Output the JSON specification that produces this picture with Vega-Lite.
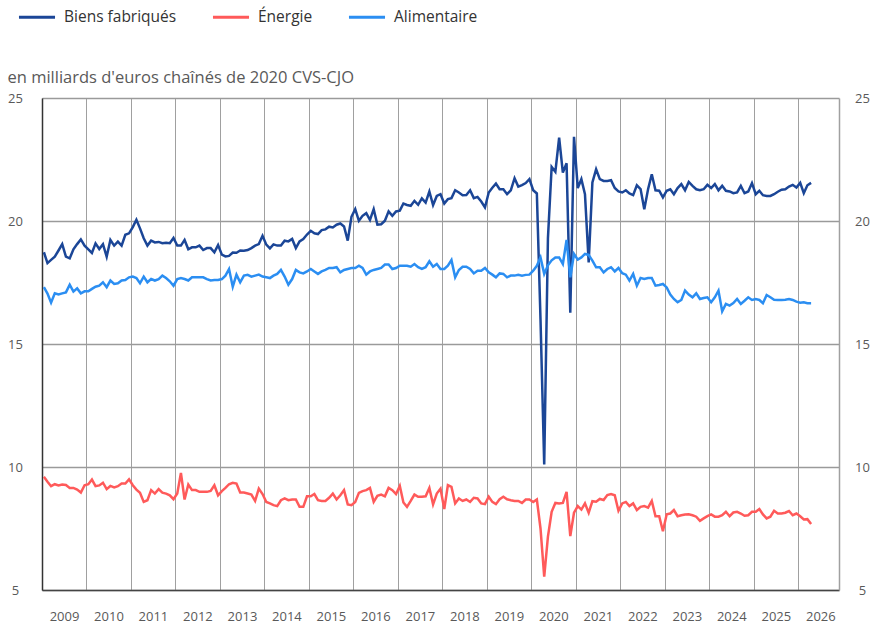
{
"$schema": "https://vega.github.io/schema/vega-lite/v6.json",
"width": 797, "height": 492,
"autosize": {"type": "none"},
"padding": {"left": 42, "top": 98, "right": 35, "bottom": 35},
"background": "#ffffff",
"config": {"font": "Open Sans", "view": {"stroke": null}},
"data": {"values": [
{"d":"2009-01","Biens fabriqués":18.73,"Énergie":9.6,"Alimentaire":17.31},
{"d":"2009-02","Biens fabriqués":18.29,"Énergie":9.4,"Alimentaire":17.05},
{"d":"2009-03","Biens fabriqués":18.42,"Énergie":9.22,"Alimentaire":16.68},
{"d":"2009-04","Biens fabriqués":18.55,"Énergie":9.3,"Alimentaire":17.06},
{"d":"2009-05","Biens fabriqués":18.8,"Énergie":9.25,"Alimentaire":17.01},
{"d":"2009-06","Biens fabriqués":19.06,"Énergie":9.29,"Alimentaire":17.06},
{"d":"2009-07","Biens fabriqués":18.55,"Énergie":9.27,"Alimentaire":17.1},
{"d":"2009-08","Biens fabriqués":18.48,"Énergie":9.15,"Alimentaire":17.41},
{"d":"2009-09","Biens fabriqués":18.85,"Énergie":9.15,"Alimentaire":17.13},
{"d":"2009-10","Biens fabriqués":19.06,"Énergie":9.08,"Alimentaire":17.26},
{"d":"2009-11","Biens fabriqués":19.25,"Énergie":8.96,"Alimentaire":17.06},
{"d":"2009-12","Biens fabriqués":19.0,"Énergie":9.26,"Alimentaire":17.14},
{"d":"2010-01","Biens fabriqués":18.85,"Énergie":9.3,"Alimentaire":17.14},
{"d":"2010-02","Biens fabriqués":18.7,"Énergie":9.49,"Alimentaire":17.24},
{"d":"2010-03","Biens fabriqués":19.09,"Énergie":9.22,"Alimentaire":17.33},
{"d":"2010-04","Biens fabriqués":18.86,"Énergie":9.25,"Alimentaire":17.37},
{"d":"2010-05","Biens fabriqués":19.06,"Énergie":9.36,"Alimentaire":17.51},
{"d":"2010-06","Biens fabriqués":18.55,"Énergie":9.1,"Alimentaire":17.31},
{"d":"2010-07","Biens fabriqués":19.23,"Énergie":9.23,"Alimentaire":17.58},
{"d":"2010-08","Biens fabriqués":19.0,"Énergie":9.17,"Alimentaire":17.44},
{"d":"2010-09","Biens fabriqués":19.16,"Énergie":9.22,"Alimentaire":17.47},
{"d":"2010-10","Biens fabriqués":19.0,"Énergie":9.33,"Alimentaire":17.58},
{"d":"2010-11","Biens fabriqués":19.44,"Énergie":9.33,"Alimentaire":17.6},
{"d":"2010-12","Biens fabriqués":19.5,"Énergie":9.5,"Alimentaire":17.71},
{"d":"2011-01","Biens fabriqués":19.75,"Énergie":9.26,"Alimentaire":17.74},
{"d":"2011-02","Biens fabriqués":20.05,"Énergie":9.08,"Alimentaire":17.68},
{"d":"2011-03","Biens fabriqués":19.7,"Énergie":8.95,"Alimentaire":17.47},
{"d":"2011-04","Biens fabriqués":19.3,"Énergie":8.58,"Alimentaire":17.74},
{"d":"2011-05","Biens fabriqués":19.0,"Énergie":8.65,"Alimentaire":17.51},
{"d":"2011-06","Biens fabriqués":19.2,"Énergie":9.06,"Alimentaire":17.64},
{"d":"2011-07","Biens fabriqués":19.13,"Énergie":8.92,"Alimentaire":17.58},
{"d":"2011-08","Biens fabriqués":19.15,"Énergie":9.1,"Alimentaire":17.64},
{"d":"2011-09","Biens fabriqués":19.1,"Énergie":8.96,"Alimentaire":17.78},
{"d":"2011-10","Biens fabriqués":19.12,"Énergie":8.92,"Alimentaire":17.68},
{"d":"2011-11","Biens fabriqués":19.1,"Énergie":8.85,"Alimentaire":17.55},
{"d":"2011-12","Biens fabriqués":19.31,"Énergie":8.69,"Alimentaire":17.37},
{"d":"2012-01","Biens fabriqués":19.0,"Énergie":8.92,"Alimentaire":17.64},
{"d":"2012-02","Biens fabriqués":19.0,"Énergie":9.76,"Alimentaire":17.68},
{"d":"2012-03","Biens fabriqués":19.23,"Énergie":8.68,"Alimentaire":17.64},
{"d":"2012-04","Biens fabriqués":18.85,"Énergie":9.29,"Alimentaire":17.58},
{"d":"2012-05","Biens fabriqués":18.93,"Énergie":9.06,"Alimentaire":17.71},
{"d":"2012-06","Biens fabriqués":18.93,"Énergie":9.06,"Alimentaire":17.71},
{"d":"2012-07","Biens fabriqués":19.0,"Énergie":8.99,"Alimentaire":17.71},
{"d":"2012-08","Biens fabriqués":18.82,"Énergie":8.99,"Alimentaire":17.71},
{"d":"2012-09","Biens fabriqués":18.9,"Énergie":8.99,"Alimentaire":17.64},
{"d":"2012-10","Biens fabriqués":18.9,"Énergie":9.03,"Alimentaire":17.58},
{"d":"2012-11","Biens fabriqués":18.73,"Énergie":9.26,"Alimentaire":17.6},
{"d":"2012-12","Biens fabriqués":19.02,"Énergie":8.85,"Alimentaire":17.6},
{"d":"2013-01","Biens fabriqués":18.63,"Énergie":9.02,"Alimentaire":17.64},
{"d":"2013-02","Biens fabriqués":18.56,"Énergie":9.15,"Alimentaire":17.78},
{"d":"2013-03","Biens fabriqués":18.58,"Énergie":9.3,"Alimentaire":18.05},
{"d":"2013-04","Biens fabriqués":18.72,"Énergie":9.36,"Alimentaire":17.33},
{"d":"2013-05","Biens fabriqués":18.71,"Énergie":9.33,"Alimentaire":17.82},
{"d":"2013-06","Biens fabriqués":18.8,"Énergie":8.96,"Alimentaire":17.51},
{"d":"2013-07","Biens fabriqués":18.79,"Énergie":8.96,"Alimentaire":17.78},
{"d":"2013-08","Biens fabriqués":18.82,"Énergie":8.92,"Alimentaire":17.81},
{"d":"2013-09","Biens fabriqués":18.9,"Énergie":8.88,"Alimentaire":17.74},
{"d":"2013-10","Biens fabriqués":19.0,"Énergie":8.62,"Alimentaire":17.78},
{"d":"2013-11","Biens fabriqués":19.06,"Énergie":9.12,"Alimentaire":17.82},
{"d":"2013-12","Biens fabriqués":19.4,"Énergie":8.9,"Alimentaire":17.74},
{"d":"2014-01","Biens fabriqués":19.04,"Énergie":8.58,"Alimentaire":17.71},
{"d":"2014-02","Biens fabriqués":18.89,"Énergie":8.52,"Alimentaire":17.68},
{"d":"2014-03","Biens fabriqués":19.05,"Énergie":8.45,"Alimentaire":17.78},
{"d":"2014-04","Biens fabriqués":19.0,"Énergie":8.41,"Alimentaire":17.85},
{"d":"2014-05","Biens fabriqués":19.0,"Énergie":8.65,"Alimentaire":18.01},
{"d":"2014-06","Biens fabriqués":19.2,"Énergie":8.72,"Alimentaire":17.74},
{"d":"2014-07","Biens fabriqués":19.17,"Énergie":8.65,"Alimentaire":17.41},
{"d":"2014-08","Biens fabriqués":19.27,"Énergie":8.68,"Alimentaire":17.64},
{"d":"2014-09","Biens fabriqués":18.9,"Énergie":8.68,"Alimentaire":18.01},
{"d":"2014-10","Biens fabriqués":19.17,"Énergie":8.38,"Alimentaire":17.91},
{"d":"2014-11","Biens fabriqués":19.27,"Énergie":8.38,"Alimentaire":17.87},
{"d":"2014-12","Biens fabriqués":19.45,"Énergie":8.81,"Alimentaire":17.95},
{"d":"2015-01","Biens fabriqués":19.6,"Énergie":8.81,"Alimentaire":18.05},
{"d":"2015-02","Biens fabriqués":19.5,"Énergie":8.9,"Alimentaire":17.95},
{"d":"2015-03","Biens fabriqués":19.47,"Énergie":8.65,"Alimentaire":17.85},
{"d":"2015-04","Biens fabriqués":19.63,"Énergie":8.62,"Alimentaire":17.95},
{"d":"2015-05","Biens fabriqués":19.66,"Énergie":8.62,"Alimentaire":18.01},
{"d":"2015-06","Biens fabriqués":19.77,"Énergie":8.75,"Alimentaire":18.09},
{"d":"2015-07","Biens fabriqués":19.74,"Énergie":8.92,"Alimentaire":18.09},
{"d":"2015-08","Biens fabriqués":19.85,"Énergie":8.68,"Alimentaire":18.12},
{"d":"2015-09","Biens fabriqués":19.9,"Énergie":8.85,"Alimentaire":17.91},
{"d":"2015-10","Biens fabriqués":19.78,"Énergie":9.06,"Alimentaire":18.01},
{"d":"2015-11","Biens fabriqués":19.2,"Énergie":8.48,"Alimentaire":18.05},
{"d":"2015-12","Biens fabriqués":20.17,"Énergie":8.45,"Alimentaire":18.09},
{"d":"2016-01","Biens fabriqués":20.48,"Énergie":8.58,"Alimentaire":18.09},
{"d":"2016-02","Biens fabriqués":20.01,"Énergie":8.95,"Alimentaire":18.18},
{"d":"2016-03","Biens fabriqués":20.21,"Énergie":9.02,"Alimentaire":18.09},
{"d":"2016-04","Biens fabriqués":20.32,"Énergie":9.06,"Alimentaire":17.82},
{"d":"2016-05","Biens fabriqués":20.04,"Énergie":9.15,"Alimentaire":17.95},
{"d":"2016-06","Biens fabriqués":20.48,"Énergie":8.58,"Alimentaire":18.01},
{"d":"2016-07","Biens fabriqués":19.85,"Énergie":8.83,"Alimentaire":18.05},
{"d":"2016-08","Biens fabriqués":19.87,"Énergie":8.88,"Alimentaire":18.09},
{"d":"2016-09","Biens fabriqués":20.01,"Énergie":8.81,"Alimentaire":18.23},
{"d":"2016-10","Biens fabriqués":20.39,"Énergie":9.15,"Alimentaire":18.23},
{"d":"2016-11","Biens fabriqués":20.21,"Énergie":9.06,"Alimentaire":18.05},
{"d":"2016-12","Biens fabriqués":20.39,"Énergie":8.9,"Alimentaire":18.09},
{"d":"2017-01","Biens fabriqués":20.42,"Énergie":9.23,"Alimentaire":18.18},
{"d":"2017-02","Biens fabriqués":20.71,"Énergie":8.56,"Alimentaire":18.18},
{"d":"2017-03","Biens fabriqués":20.65,"Énergie":8.38,"Alimentaire":18.18},
{"d":"2017-04","Biens fabriqués":20.62,"Énergie":8.62,"Alimentaire":18.14},
{"d":"2017-05","Biens fabriqués":20.82,"Énergie":8.88,"Alimentaire":18.25},
{"d":"2017-06","Biens fabriqués":20.66,"Énergie":8.79,"Alimentaire":18.12},
{"d":"2017-07","Biens fabriqués":20.92,"Énergie":8.79,"Alimentaire":18.05},
{"d":"2017-08","Biens fabriqués":20.75,"Énergie":8.81,"Alimentaire":18.12},
{"d":"2017-09","Biens fabriqués":21.2,"Énergie":9.15,"Alimentaire":18.36},
{"d":"2017-10","Biens fabriqués":20.65,"Énergie":8.48,"Alimentaire":18.14},
{"d":"2017-11","Biens fabriqués":21.02,"Énergie":8.92,"Alimentaire":18.25},
{"d":"2017-12","Biens fabriqués":21.09,"Énergie":9.12,"Alimentaire":18.05},
{"d":"2018-01","Biens fabriqués":20.71,"Énergie":8.29,"Alimentaire":18.05},
{"d":"2018-02","Biens fabriqués":20.89,"Énergie":9.26,"Alimentaire":18.18},
{"d":"2018-03","Biens fabriqués":20.93,"Énergie":9.19,"Alimentaire":18.41},
{"d":"2018-04","Biens fabriqués":21.25,"Énergie":8.52,"Alimentaire":17.71},
{"d":"2018-05","Biens fabriqués":21.16,"Énergie":8.72,"Alimentaire":18.01},
{"d":"2018-06","Biens fabriqués":21.05,"Énergie":8.62,"Alimentaire":18.14},
{"d":"2018-07","Biens fabriqués":21.06,"Énergie":8.68,"Alimentaire":18.14},
{"d":"2018-08","Biens fabriqués":21.25,"Énergie":8.58,"Alimentaire":18.05},
{"d":"2018-09","Biens fabriqués":20.93,"Énergie":8.75,"Alimentaire":17.87},
{"d":"2018-10","Biens fabriqués":20.98,"Énergie":8.72,"Alimentaire":17.98},
{"d":"2018-11","Biens fabriqués":20.79,"Énergie":8.52,"Alimentaire":17.98},
{"d":"2018-12","Biens fabriqués":20.55,"Énergie":8.49,"Alimentaire":18.09},
{"d":"2019-01","Biens fabriqués":21.16,"Énergie":8.79,"Alimentaire":17.91},
{"d":"2019-02","Biens fabriqués":21.35,"Énergie":8.58,"Alimentaire":17.82},
{"d":"2019-03","Biens fabriqués":21.52,"Énergie":8.49,"Alimentaire":17.71},
{"d":"2019-04","Biens fabriqués":21.29,"Énergie":8.69,"Alimentaire":17.87},
{"d":"2019-05","Biens fabriqués":21.29,"Énergie":8.79,"Alimentaire":17.85},
{"d":"2019-06","Biens fabriqués":21.09,"Énergie":8.69,"Alimentaire":17.71},
{"d":"2019-07","Biens fabriqués":21.25,"Énergie":8.65,"Alimentaire":17.78},
{"d":"2019-08","Biens fabriqués":21.74,"Énergie":8.62,"Alimentaire":17.78},
{"d":"2019-09","Biens fabriqués":21.4,"Énergie":8.62,"Alimentaire":17.81},
{"d":"2019-10","Biens fabriqués":21.46,"Énergie":8.54,"Alimentaire":17.78},
{"d":"2019-11","Biens fabriqués":21.54,"Énergie":8.68,"Alimentaire":17.81},
{"d":"2019-12","Biens fabriqués":21.7,"Énergie":8.68,"Alimentaire":17.82},
{"d":"2020-01","Biens fabriqués":21.25,"Énergie":8.58,"Alimentaire":17.98},
{"d":"2020-02","Biens fabriqués":21.12,"Énergie":8.68,"Alimentaire":18.18},
{"d":"2020-03","Biens fabriqués":16.0,"Énergie":7.5,"Alimentaire":18.52},
{"d":"2020-04","Biens fabriqués":10.1,"Énergie":5.54,"Alimentaire":17.85},
{"d":"2020-05","Biens fabriqués":19.3,"Énergie":7.17,"Alimentaire":18.2},
{"d":"2020-06","Biens fabriqués":22.2,"Énergie":8.18,"Alimentaire":18.4},
{"d":"2020-07","Biens fabriqués":22.0,"Énergie":8.54,"Alimentaire":18.52},
{"d":"2020-08","Biens fabriqués":23.39,"Énergie":8.52,"Alimentaire":18.52},
{"d":"2020-09","Biens fabriqués":21.97,"Énergie":8.54,"Alimentaire":18.25},
{"d":"2020-10","Biens fabriqués":22.35,"Énergie":8.99,"Alimentaire":19.23},
{"d":"2020-11","Biens fabriqués":16.27,"Énergie":7.19,"Alimentaire":17.71},
{"d":"2020-12","Biens fabriqués":23.42,"Énergie":8.14,"Alimentaire":18.66},
{"d":"2021-01","Biens fabriqués":21.34,"Énergie":8.41,"Alimentaire":18.43},
{"d":"2021-02","Biens fabriqués":21.7,"Énergie":8.27,"Alimentaire":18.52},
{"d":"2021-03","Biens fabriqués":21.09,"Énergie":8.52,"Alimentaire":18.66},
{"d":"2021-04","Biens fabriqués":18.32,"Énergie":8.14,"Alimentaire":18.62},
{"d":"2021-05","Biens fabriqués":21.57,"Énergie":8.61,"Alimentaire":18.39},
{"d":"2021-06","Biens fabriqués":22.1,"Énergie":8.59,"Alimentaire":18.12},
{"d":"2021-07","Biens fabriqués":21.7,"Énergie":8.7,"Alimentaire":18.12},
{"d":"2021-08","Biens fabriqués":21.63,"Énergie":8.66,"Alimentaire":17.91},
{"d":"2021-09","Biens fabriqués":21.63,"Énergie":8.86,"Alimentaire":18.05},
{"d":"2021-10","Biens fabriqués":21.66,"Énergie":8.9,"Alimentaire":18.12},
{"d":"2021-11","Biens fabriqués":21.34,"Énergie":8.85,"Alimentaire":17.95},
{"d":"2021-12","Biens fabriqués":21.2,"Énergie":8.22,"Alimentaire":18.09},
{"d":"2022-01","Biens fabriqués":21.16,"Énergie":8.52,"Alimentaire":17.88},
{"d":"2022-02","Biens fabriqués":21.25,"Énergie":8.58,"Alimentaire":17.82},
{"d":"2022-03","Biens fabriqués":21.12,"Énergie":8.41,"Alimentaire":17.58},
{"d":"2022-04","Biens fabriqués":21.05,"Énergie":8.52,"Alimentaire":17.85},
{"d":"2022-05","Biens fabriqués":21.45,"Énergie":8.25,"Alimentaire":17.37},
{"d":"2022-06","Biens fabriqués":21.3,"Énergie":8.38,"Alimentaire":17.68},
{"d":"2022-07","Biens fabriqués":20.48,"Énergie":8.41,"Alimentaire":17.64},
{"d":"2022-08","Biens fabriqués":21.29,"Énergie":8.35,"Alimentaire":17.68},
{"d":"2022-09","Biens fabriqués":21.9,"Énergie":8.62,"Alimentaire":17.68},
{"d":"2022-10","Biens fabriqués":21.25,"Énergie":8.0,"Alimentaire":17.37},
{"d":"2022-11","Biens fabriqués":21.23,"Énergie":8.0,"Alimentaire":17.4},
{"d":"2022-12","Biens fabriqués":20.96,"Énergie":7.39,"Alimentaire":17.44},
{"d":"2023-01","Biens fabriqués":21.23,"Énergie":8.08,"Alimentaire":17.3},
{"d":"2023-02","Biens fabriqués":21.29,"Énergie":8.11,"Alimentaire":17.01},
{"d":"2023-03","Biens fabriqués":21.09,"Énergie":8.25,"Alimentaire":16.83},
{"d":"2023-04","Biens fabriqués":21.34,"Énergie":8.0,"Alimentaire":16.7},
{"d":"2023-05","Biens fabriqués":21.5,"Énergie":8.04,"Alimentaire":16.79},
{"d":"2023-06","Biens fabriqués":21.25,"Énergie":8.07,"Alimentaire":17.17},
{"d":"2023-07","Biens fabriqués":21.59,"Énergie":8.08,"Alimentaire":17.01},
{"d":"2023-08","Biens fabriqués":21.43,"Énergie":8.04,"Alimentaire":16.9},
{"d":"2023-09","Biens fabriqués":21.29,"Énergie":7.98,"Alimentaire":17.06},
{"d":"2023-10","Biens fabriqués":21.25,"Énergie":7.81,"Alimentaire":16.83},
{"d":"2023-11","Biens fabriqués":21.29,"Énergie":7.91,"Alimentaire":16.87},
{"d":"2023-12","Biens fabriqués":21.47,"Énergie":8.0,"Alimentaire":16.9},
{"d":"2024-01","Biens fabriqués":21.34,"Énergie":8.07,"Alimentaire":16.7},
{"d":"2024-02","Biens fabriqués":21.5,"Énergie":7.98,"Alimentaire":16.9},
{"d":"2024-03","Biens fabriqués":21.25,"Énergie":7.98,"Alimentaire":17.17},
{"d":"2024-04","Biens fabriqués":21.43,"Énergie":8.04,"Alimentaire":16.33},
{"d":"2024-05","Biens fabriqués":21.23,"Énergie":8.18,"Alimentaire":16.63},
{"d":"2024-06","Biens fabriqués":21.2,"Énergie":8.0,"Alimentaire":16.56},
{"d":"2024-07","Biens fabriqués":21.13,"Énergie":8.15,"Alimentaire":16.66},
{"d":"2024-08","Biens fabriqués":21.16,"Énergie":8.18,"Alimentaire":16.83},
{"d":"2024-09","Biens fabriqués":21.43,"Énergie":8.11,"Alimentaire":16.63},
{"d":"2024-10","Biens fabriqués":21.13,"Énergie":8.02,"Alimentaire":16.76},
{"d":"2024-11","Biens fabriqués":21.2,"Énergie":8.04,"Alimentaire":16.9},
{"d":"2024-12","Biens fabriqués":21.54,"Énergie":8.18,"Alimentaire":16.79},
{"d":"2025-01","Biens fabriqués":21.09,"Énergie":8.18,"Alimentaire":16.83},
{"d":"2025-02","Biens fabriqués":21.23,"Énergie":8.29,"Alimentaire":16.79},
{"d":"2025-03","Biens fabriqués":21.05,"Énergie":8.07,"Alimentaire":16.66},
{"d":"2025-04","Biens fabriqués":21.02,"Énergie":7.91,"Alimentaire":16.99},
{"d":"2025-05","Biens fabriqués":21.02,"Énergie":7.98,"Alimentaire":16.9},
{"d":"2025-06","Biens fabriqués":21.09,"Énergie":8.22,"Alimentaire":16.8},
{"d":"2025-07","Biens fabriqués":21.19,"Énergie":8.11,"Alimentaire":16.79},
{"d":"2025-08","Biens fabriqués":21.27,"Énergie":8.11,"Alimentaire":16.79},
{"d":"2025-09","Biens fabriqués":21.29,"Énergie":8.14,"Alimentaire":16.8},
{"d":"2025-10","Biens fabriqués":21.4,"Énergie":8.21,"Alimentaire":16.83},
{"d":"2025-11","Biens fabriqués":21.47,"Énergie":8.04,"Alimentaire":16.79},
{"d":"2025-12","Biens fabriqués":21.36,"Énergie":8.11,"Alimentaire":16.72},
{"d":"2026-01","Biens fabriqués":21.55,"Énergie":8.0,"Alimentaire":16.68},
{"d":"2026-02","Biens fabriqués":21.13,"Énergie":7.87,"Alimentaire":16.7},
{"d":"2026-03","Biens fabriqués":21.45,"Énergie":7.88,"Alimentaire":16.66},
{"d":"2026-04","Biens fabriqués":21.55,"Énergie":7.68,"Alimentaire":16.66}
]},
"transform": [{"fold": ["Biens fabriqués", "Énergie", "Alimentaire"], "as": ["serie", "v"]}],
"encoding": {
  "x": {"field": "d", "timeUnit": "yearmonth", "type": "temporal", "bandPosition": 0.5,
    "scale": {"domain": [{"year": 2009, "month": 1, "date": 1}, {"year": 2026, "month": 12, "date": 1}]},
    "axis": {"title": null, "format": "%Y",
      "values": [{"year":2009,"month":1,"date":1},{"year":2010,"month":1,"date":1},{"year":2011,"month":1,"date":1},{"year":2012,"month":1,"date":1},{"year":2013,"month":1,"date":1},{"year":2014,"month":1,"date":1},{"year":2015,"month":1,"date":1},{"year":2016,"month":1,"date":1},{"year":2017,"month":1,"date":1},{"year":2018,"month":1,"date":1},{"year":2019,"month":1,"date":1},{"year":2020,"month":1,"date":1},{"year":2021,"month":1,"date":1},{"year":2022,"month":1,"date":1},{"year":2023,"month":1,"date":1},{"year":2024,"month":1,"date":1},{"year":2025,"month":1,"date":1},{"year":2026,"month":1,"date":1}],
      "labelOffset": 22, "ticks": false, "tickSize": 0, "labelPadding": 20, "labelFontSize": 13, "labelColor": "#595959", "labelFont": "Open Sans",
      "labelFlush": false, "labelOverlap": false, "labelBound": false,
      "grid": true, "gridColor": "#a0a0a0", "gridWidth": 1,
      "domain": true, "domainColor": "#444444", "domainWidth": 1.5}}
},
"layer": [
  {"mark": {"type": "line", "opacity": 0},
   "encoding": {"y": {"field": "v", "type": "quantitative", "scale": {"domain": [5, 25]},
     "axis": {"orient": "right", "values": [5, 10, 15, 20, 25], "grid": false, "ticks": false, "tickSize": 0,
       "domain": true, "domainColor": "#a0a0a0", "domainWidth": 1.5,
       "labelAlign": "center", "labelPadding": 23, "labelFontSize": 13, "labelColor": "#595959", "labelFont": "Open Sans", "title": null}}}},
  {"mark": {"type": "line", "strokeWidth": 2.5},
   "encoding": {
     "y": {"field": "v", "type": "quantitative", "scale": {"domain": [5, 25]},
       "axis": {"orient": "left", "values": [5, 10, 15, 20, 25], "grid": true, "gridColor": "#9a9a9a", "gridWidth": 1.5,
         "ticks": false, "tickSize": 0, "domain": true, "domainColor": "#333333", "domainWidth": 1.5,
         "labelAlign": "center", "labelPadding": 27, "labelFontSize": 13, "labelColor": "#595959", "labelFont": "Open Sans",
         "title": "en milliards d'euros chaînés de 2020 CVS-CJO", "titleAngle": 0, "titleAlign": "left", "titleBaseline": "alphabetic",
         "titleX": -35, "titleY": -16, "titleFontSize": 16.5, "titleFontWeight": "normal", "titleColor": "#595959", "titleFont": "Open Sans"}},
     "color": {"field": "serie", "type": "nominal",
       "scale": {"domain": ["Biens fabriqués", "Énergie", "Alimentaire"], "range": ["#1b4697", "#ff5a5a", "#2b8ef2"]},
       "legend": {"title": null, "orient": "none", "legendX": -25, "legendY": -101, "direction": "horizontal",
         "symbolType": "stroke", "symbolSize": 1300, "symbolStrokeWidth": 3, "labelFontSize": 15.5, "labelColor": "#333333",
         "labelFont": "Open Sans", "labelOffset": 7, "columnPadding": 29, "padding": 0}}
   }}
],
"resolve": {"axis": {"y": "independent"}}
}
